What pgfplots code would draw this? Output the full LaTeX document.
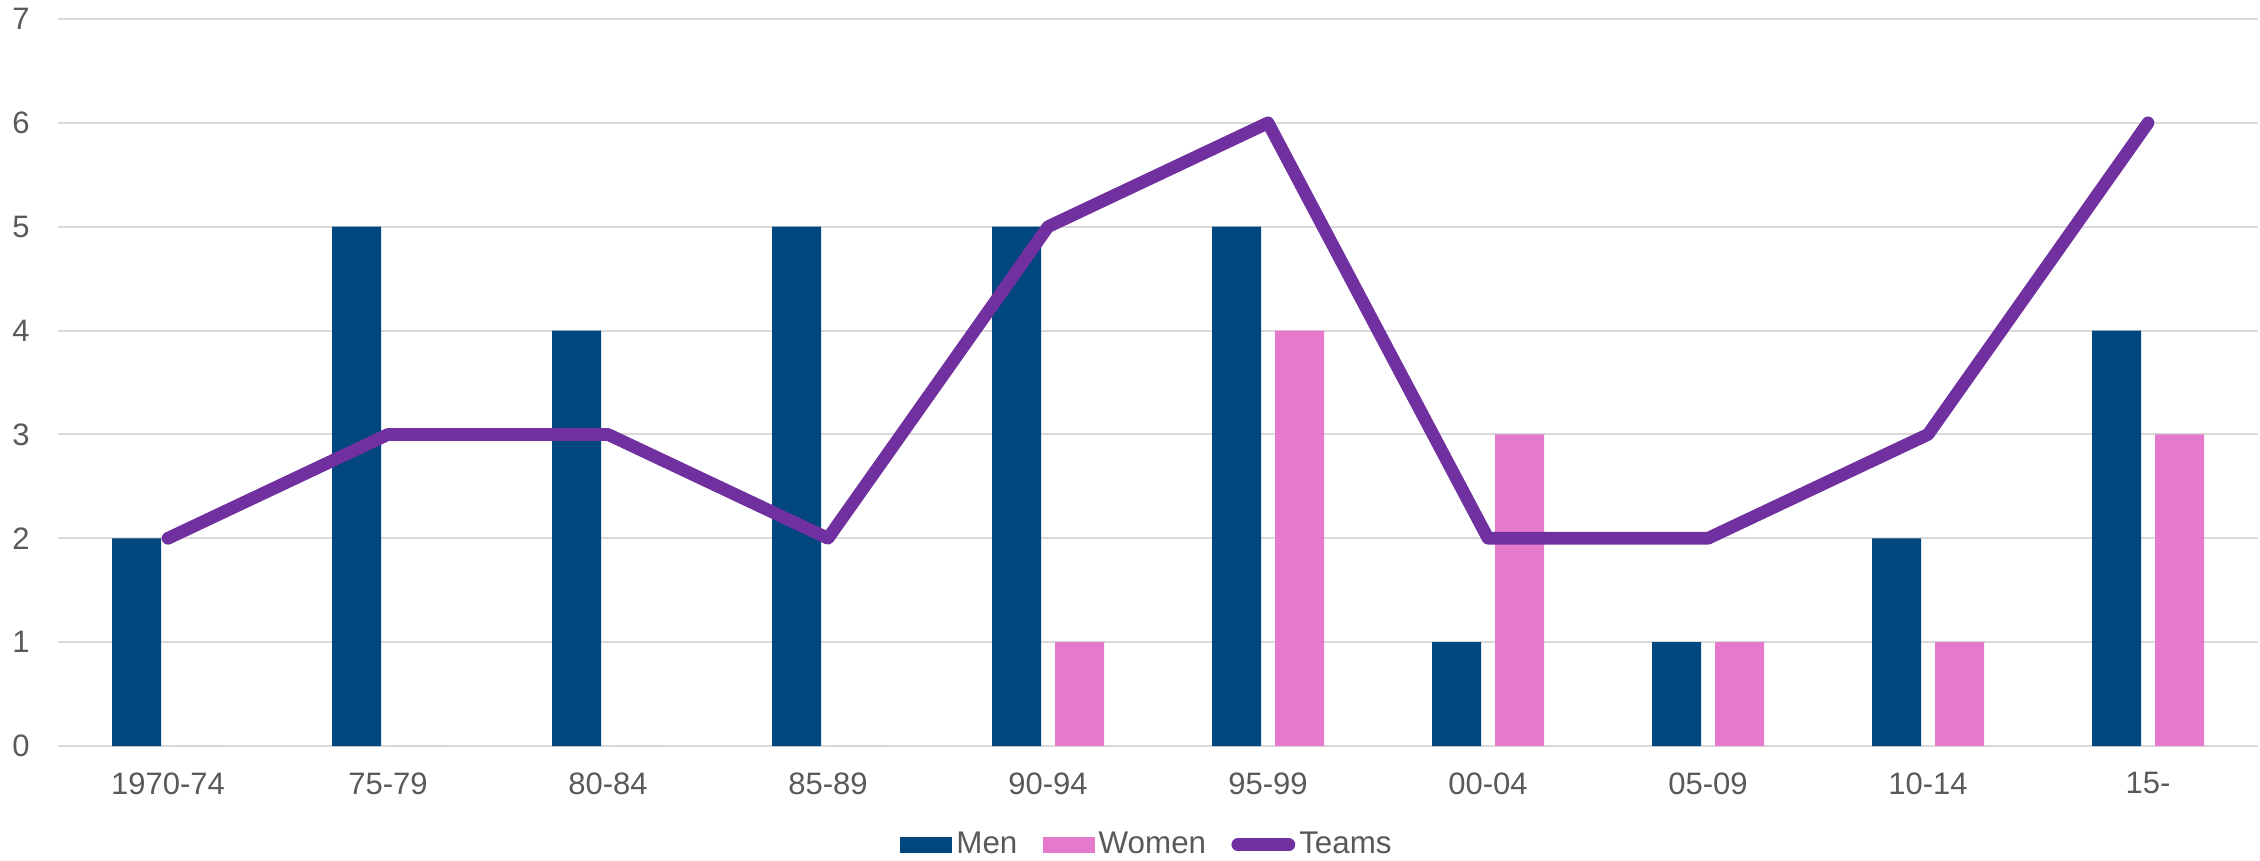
\documentclass[border=0pt]{standalone}
\usepackage{pgfplots}
\pgfplotsset{compat=1.18}
\usepackage{fontspec}
\setmainfont{Liberation Sans}
\definecolor{men}{HTML}{00467F}
\definecolor{women}{HTML}{E57ACD}
\definecolor{teams}{HTML}{7030A0}
\definecolor{gridc}{HTML}{D9D9D9}
\definecolor{txt}{HTML}{595959}

\begin{document}
\begin{tikzpicture}
\path[use as bounding box] (0,0) rectangle (678pt,258pt);
\begin{axis}[
  at={(17.4pt,34.2pt)}, anchor=south west,
  scale only axis, width=660pt, height=218.1pt,
  xmin=-0.5, xmax=9.5, ymin=0, ymax=7,
  xtick={0,...,9},
  xticklabels={1970-74,75-79,80-84,85-89,90-94,95-99,00-04,05-09,10-14,15-},
  ytick={0,...,7},
  axis line style={draw=none},
  major tick length=0pt,
  ymajorgrids=true,
  grid style={gridc, line width=0.6pt},
  tick label style={font=\fontsize{9.3}{11}\selectfont, text=txt},
  /pgf/number format/assume math mode=true,
  xticklabel style={yshift=-4.4pt},
  yticklabel style={xshift=-5pt},
  legend columns=3,
  legend style={draw=none, fill=none, at={(0.495,-0.136)}, anchor=center,
    font=\fontsize{9.4}{11}\selectfont, text=txt,
    /tikz/every odd column/.append style={column sep=0.6pt},
    /tikz/every even column/.append style={column sep=7pt},
    nodes={inner sep=0.6pt}},
]

\addplot[ybar, bar width=14.7pt, bar shift=-9.45pt, fill=men, draw=none,
  legend image code/.code={\fill[men] (0pt,-2.4pt) rectangle (15.6pt,2.4pt);}]
  coordinates {(0,2)(1,5)(2,4)(3,5)(4,5)(5,5)(6,1)(7,1)(8,2)(9,4)};

\addplot[ybar, bar width=14.7pt, bar shift=9.45pt, fill=women, draw=none,
  legend image code/.code={\fill[women] (0pt,-2.4pt) rectangle (15.6pt,2.4pt);}]
  coordinates {(0,0)(1,0)(2,0)(3,0)(4,1)(5,4)(6,3)(7,1)(8,1)(9,3)};

\addplot[teams, line width=3.8pt, line cap=round, line join=round,
  legend image code/.code={\path[draw=none, fill=none] (0pt,-2.4pt) rectangle (18pt,2.4pt);
    \draw[teams, line width=3.9pt, line cap=round] (1.95pt,0pt) -- (17.2pt,0pt);}]
  coordinates {(0,2)(1,3)(2,3)(3,2)(4,5)(5,6)(6,2)(7,2)(8,3)(9,6)};

\legend{Men,Women,Teams}
\end{axis}
\end{tikzpicture}
\end{document}
